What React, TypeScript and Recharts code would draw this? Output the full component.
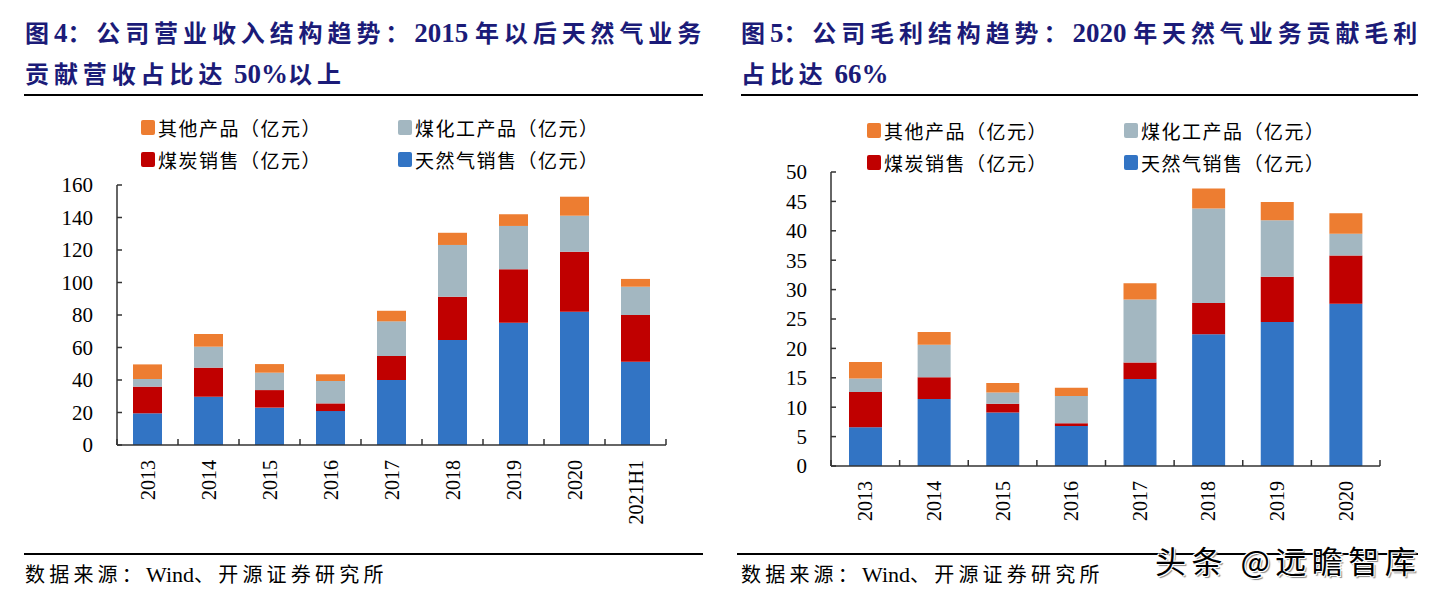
import { BarChart, Bar, XAxis, YAxis } from 'recharts'

// ─── Data ─────────────────────────────────────────────────────────────────────

const revYears = ['2013', '2014', '2015', '2016', '2017', '2018', '2019', '2020', '2021H1']
const revGas   = [19.5, 29.7, 23.0, 20.9, 40.0, 64.6, 75.3, 82.0, 51.3]
const revCoal  = [16.4, 17.9, 10.8, 4.7, 14.8, 26.7, 32.8, 37.0, 28.7]
const revChem  = [4.7, 12.9, 10.7, 13.8, 21.3, 31.8, 26.7, 22.1, 17.4]
const revOther = [9.0, 7.8, 5.3, 4.1, 6.5, 7.5, 7.2, 11.7, 4.8]
const revTicks = [0, 20, 40, 60, 80, 100, 120, 140, 160]

const gpYears = ['2013', '2014', '2015', '2016', '2017', '2018', '2019', '2020']
const gpGas   = [6.6, 11.4, 9.1, 6.8, 14.8, 22.4, 24.5, 27.6]
const gpCoal  = [6.0, 3.7, 1.5, 0.45, 2.8, 5.3, 7.7, 8.2]
const gpChem  = [2.3, 5.5, 1.9, 4.65, 10.7, 16.1, 9.6, 3.7]
const gpOther = [2.8, 2.2, 1.6, 1.4, 2.8, 3.4, 3.1, 3.5]
const gpTicks = [0, 5, 10, 15, 20, 25, 30, 35, 40, 45, 50]

const seriesNames = {
  other: '其他产品（亿元）',
  chem: '煤化工产品（亿元）',
  coal: '煤炭销售（亿元）',
  gas: '天然气销售（亿元）',
}

// ─── Constants ────────────────────────────────────────────────────────────────

const SERIF = "'Liberation Serif', 'Noto Sans CJK SC', serif"
const NAVY = '#1B1B78'
const ORANGE = '#ED7D31'
const GRAY = '#A3B7C1'
const RED = '#C00000'
const BLUE = '#3274C4'
const AXIS = '#333'

const revData = revYears.map((year, i) => ({
  year, gas: revGas[i], coal: revCoal[i], chem: revChem[i], other: revOther[i],
}))
const gpData = gpYears.map((year, i) => ({
  year, gas: gpGas[i], coal: gpCoal[i], chem: gpChem[i], other: gpOther[i],
}))

// ─── Helpers ──────────────────────────────────────────────────────────────────

// CJK runs get wide tracking, latin runs stay tight and a bit larger (Times vs SimSun)
const CJK_RE = /[\u3000-\u9fff\uff00-\uffef]/
function spaced(text: string, cjk: number, latinSize: number) {
  const runs = text.match(/[\u3000-\u9fff\uff00-\uffef]+|[^\u3000-\u9fff\uff00-\uffef]+/g) || []
  return runs.map((r, i) => {
    const isCjk = CJK_RE.test(r)
    return (
      <span key={i} style={isCjk ? { letterSpacing: cjk } : { fontSize: latinSize, whiteSpace: 'pre' }}>
        {r}
      </span>
    )
  })
}

// ─── Ticks ────────────────────────────────────────────────────────────────────

const Y_MARGIN = 24
const X_MARGIN = 15

function YTick(props: any) {
  const { x, y, payload } = props
  const axisX = x + Y_MARGIN
  return (
    <g>
      <line x1={axisX} y1={y} x2={axisX + 5} y2={y} stroke={AXIS} strokeWidth={1.5} />
      <text x={x} y={y} dy="0.35em" textAnchor="end" fontFamily={SERIF} fontSize={21} fill="#000">
        {payload.value}
      </text>
    </g>
  )
}

function makeXTick(band: number, count: number) {
  return function XTick(props: any) {
    const { x, y, payload, index } = props
    const axisY = y - X_MARGIN
    return (
      <g>
        <line x1={x - band / 2} y1={axisY} x2={x - band / 2} y2={axisY - 6} stroke={AXIS} strokeWidth={1.5} />
        {index === count - 1 && (
          <line x1={x + band / 2} y1={axisY} x2={x + band / 2} y2={axisY - 6} stroke={AXIS} strokeWidth={1.5} />
        )}
        <text
          transform={`translate(${x},${y}) rotate(-90)`}
          dy="0.35em"
          textAnchor="end"
          fontFamily={SERIF}
          fontSize={20}
          fill="#000"
        >
          {payload.value}
        </text>
      </g>
    )
  }
}

// ─── Pieces ───────────────────────────────────────────────────────────────────

function Title({ left, lines }: { left: number; lines: string[] }) {
  return (
    <div
      style={{
        position: 'absolute', left, top: 13, width: 720,
        fontFamily: SERIF, fontWeight: 700, fontSize: 24, lineHeight: '40px',
        color: NAVY, whiteSpace: 'nowrap',
      }}
    >
      {lines.map((l) => <div key={l}>{spaced(l, 4.9, 27)}</div>)}
    </div>
  )
}

function Rule({ left, top, width }: { left: number; top: number; width: number }) {
  return <div style={{ position: 'absolute', left, top, width, height: 2, background: '#000' }} />
}

function LegendItem({ left, top, color, label }: { left: number; top: number; color: string; label: string }) {
  return (
    <div style={{ position: 'absolute', left, top: top - 12, height: 24, display: 'flex', alignItems: 'center' }}>
      <div style={{ width: 14, height: 15, background: color, borderRadius: 2, marginRight: 3 }} />
      <span style={{ fontFamily: SERIF, fontSize: 19, letterSpacing: 1.5, color: '#000', whiteSpace: 'nowrap' }}>
        {label}
      </span>
    </div>
  )
}

function Legend4({ left, top }: { left: number; top: number }) {
  return (
    <>
      <LegendItem left={left} top={top} color={ORANGE} label={seriesNames.other} />
      <LegendItem left={left + 257} top={top} color={GRAY} label={seriesNames.chem} />
      <LegendItem left={left} top={top + 32} color={RED} label={seriesNames.coal} />
      <LegendItem left={left + 257} top={top + 32} color={BLUE} label={seriesNames.gas} />
    </>
  )
}

function Source({ left }: { left: number }) {
  return (
    <div
      style={{
        position: 'absolute', left, top: 563, lineHeight: '24px',
        fontFamily: SERIF, fontSize: 20, color: '#000', whiteSpace: 'nowrap',
      }}
    >
      {spaced('数据来源：Wind、开源证券研究所', 4.2, 22)}
    </div>
  )
}

function Bars() {
  return (
    <>
      <Bar dataKey="gas" stackId="a" fill={BLUE} isAnimationActive={false} />
      <Bar dataKey="coal" stackId="a" fill={RED} isAnimationActive={false} />
      <Bar dataKey="chem" stackId="a" fill={GRAY} isAnimationActive={false} />
      <Bar dataKey="other" stackId="a" fill={ORANGE} isAnimationActive={false} />
    </>
  )
}

// ─── App ──────────────────────────────────────────────────────────────────────

export default function App() {
  const revBand = (666 - 117) / revYears.length
  const gpBand = (660 - 111) / gpYears.length

  return (
    <div style={{ position: 'absolute', left: 0, top: 0, width: 1434, height: 599, background: '#fff', overflow: 'hidden' }}>
      <Title left={25} lines={['图4：公司营业收入结构趋势：2015 年以后天然气业务', '贡献营收占比达 50%以上']} />
      <Title left={741} lines={['图5：公司毛利结构趋势：2020 年天然气业务贡献毛利', '占比达 66%']} />
      <Rule left={24} top={94} width={679} />
      <Rule left={741} top={94} width={677} />

      <Legend4 left={141} top={127} />
      <Legend4 left={867} top={130} />

      {/* Left: revenue structure */}
      <div style={{ position: 'absolute', left: 0, top: 0 }}>
        <BarChart
          width={720}
          height={599}
          data={revData}
          barSize={29}
          margin={{ top: 185, right: 54, bottom: 124, left: 57 }}
        >
          <XAxis
            dataKey="year"
            height={30}
            interval={0}
            tickLine={false}
            tickSize={0}
            tickMargin={X_MARGIN}
            axisLine={{ stroke: AXIS, strokeWidth: 1.5 }}
            tick={makeXTick(revBand, revYears.length)}
          />
          <YAxis
            width={60}
            domain={[0, 160]}
            ticks={revTicks}
            interval={0}
            tickLine={false}
            tickSize={0}
            tickMargin={Y_MARGIN}
            axisLine={{ stroke: AXIS, strokeWidth: 1.5 }}
            tick={<YTick />}
          />
          {Bars()}
        </BarChart>
      </div>

      {/* Right: gross profit structure */}
      <div style={{ position: 'absolute', left: 720, top: 0 }}>
        <BarChart
          width={714}
          height={599}
          data={gpData}
          barSize={33}
          margin={{ top: 172, right: 54, bottom: 103, left: 51 }}
        >
          <XAxis
            dataKey="year"
            height={30}
            interval={0}
            tickLine={false}
            tickSize={0}
            tickMargin={X_MARGIN}
            axisLine={{ stroke: AXIS, strokeWidth: 1.5 }}
            tick={makeXTick(gpBand, gpYears.length)}
          />
          <YAxis
            width={60}
            domain={[0, 50]}
            ticks={gpTicks}
            interval={0}
            tickLine={false}
            tickSize={0}
            tickMargin={Y_MARGIN}
            axisLine={{ stroke: AXIS, strokeWidth: 1.5 }}
            tick={<YTick />}
          />
          {Bars()}
        </BarChart>
      </div>

      <Rule left={24} top={553} width={679} />
      <Rule left={737} top={553} width={681} />
      <Source left={25} />
      <Source left={741} />

      <div
        style={{
          position: 'absolute', left: 1155, top: 541, lineHeight: '38px',
          fontFamily: "'Noto Sans CJK SC', sans-serif", fontSize: 31, letterSpacing: 5.5, color: '#000',
          whiteSpace: 'nowrap',
          textShadow: '1px 1px 0 #fff, -1px -1px 0 #fff, 1px -1px 0 #fff, -1px 1px 0 #fff, 2px 2px 1px #888',
        }}
      >
        头条 @远瞻智库
      </div>
    </div>
  )
}
